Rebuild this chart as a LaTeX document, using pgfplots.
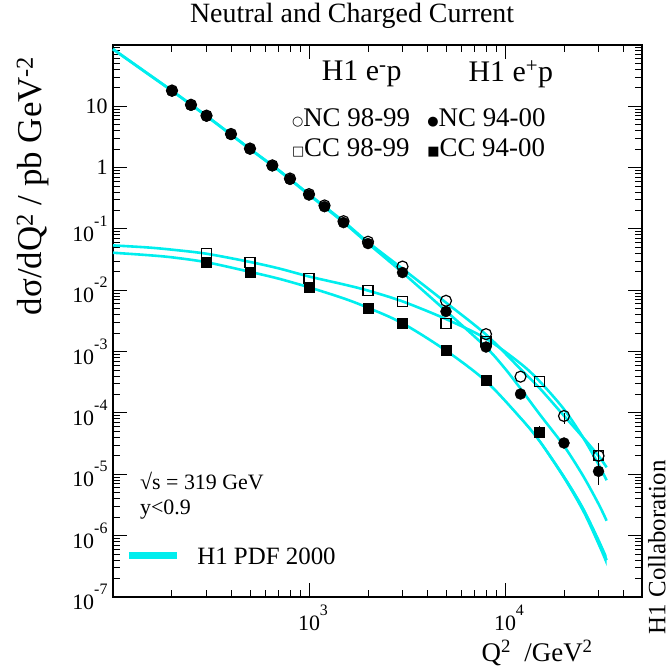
\documentclass[border=0pt]{standalone}
\usepackage{fontspec}
\setmainfont{Liberation Serif}
\newfontfamily\dejavu{DejaVu Sans}
\usepackage{pgfplots}
\pgfplotsset{compat=1.18}
\usepgfplotslibrary{fillbetween}
\definecolor{hcyan}{RGB}{0,238,238}
\newcommand{\xtl}[1]{10\rlap{\raisebox{15bp}{\fontsize{16}{16}\selectfont #1}}}
\newcommand{\ytl}[1]{10\raisebox{15bp}{\fontsize{16}{16}\selectfont #1}}
\newcommand{\fs}[1]{\fontsize{#1}{#1}\selectfont}
\newcommand{\sym}[1]{{\dejavu\fontsize{13}{13}\selectfont\raisebox{1.5bp}{#1}}}
\begin{document}
\begin{tikzpicture}
\begin{axis}[
  xmode=log, ymode=log,
  xmin=100, xmax=50000, ymin=1e-7, ymax=100,
  scale only axis, width=529bp, height=552bp,
  clip=false,
  axis line style={line width=1.2bp},
  tick style={line width=1bp, black},
  tick align=inside, tick pos=both,
  major tick length=14bp, minor tick length=7bp,
  xtick={1000,10000},
  xticklabels={\xtl{3},\xtl{4}},
  minor xtick={200,300,400,500,600,700,800,900,2000,3000,4000,5000,6000,7000,8000,9000,20000,30000,40000},
  ytick={1e-7,1e-6,1e-5,1e-4,1e-3,1e-2,1e-1,1,10},
  yticklabels={\ytl{-7},\ytl{-6},\ytl{-5},\ytl{-4},\ytl{-3},\ytl{-2},\ytl{-1},1,10},
  minor ytick={2e-7,3e-7,4e-7,5e-7,6e-7,7e-7,8e-7,9e-7,
    2e-6,3e-6,4e-6,5e-6,6e-6,7e-6,8e-6,9e-6,
    2e-5,3e-5,4e-5,5e-5,6e-5,7e-5,8e-5,9e-5,
    2e-4,3e-4,4e-4,5e-4,6e-4,7e-4,8e-4,9e-4,
    2e-3,3e-3,4e-3,5e-3,6e-3,7e-3,8e-3,9e-3,
    2e-2,3e-2,4e-2,5e-2,6e-2,7e-2,8e-2,9e-2,
    0.2,0.3,0.4,0.5,0.6,0.7,0.8,0.9,
    2,3,4,5,6,7,8,9,20,30,40,50,60,70,80,90},
  ticklabel style={font=\fs{22}},
  xticklabel style={anchor=north, yshift=-4bp},
  yticklabel style={anchor=east, xshift=-2bp},
]
% ---- H1 PDF 2000 curves
\addplot[hcyan, line width=2.6bp, smooth] coordinates {
(100,86)(150,34.5)(200,18.0)(300,7.0)(500,2.03)(700,0.915)(1000,0.368)(1500,0.133)(2000,0.061)(3000,0.0225)(5000,0.0063)(8000,0.0019)(12000,5.2e-4)(15000,2.55e-4)(20000,9.0e-5)(25000,4.0e-5)(30000,2.0e-5)(33000,1.3e-5)};
\addplot[hcyan, line width=2.6bp, smooth] coordinates {
(100,85)(150,34)(200,17.8)(300,6.9)(500,2.0)(700,0.90)(1000,0.36)(1500,0.128)(2000,0.058)(3000,0.0195)(5000,0.0046)(8000,0.00118)(10000,5.3e-4)(12000,2.5e-4)(15000,9.6e-5)(20000,2.9e-5)(25000,9.5e-6)(30000,3.3e-6)(33000,1.75e-6)};
\addplot[hcyan, line width=2.6bp, smooth] coordinates {
(100,0.054)(150,0.050)(200,0.046)(300,0.0395)(500,0.029)(700,0.0228)(1000,0.0168)(1500,0.0125)(2000,0.0099)(3000,0.0066)(5000,0.0034)(8000,0.00163)(12000,6.4e-4)(15000,3.3e-4)(20000,1.15e-4)(25000,4.0e-5)(30000,1.45e-5)(33000,8e-6)};
\addplot[hcyan, line width=2.6bp, smooth] coordinates {
(100,0.041)(150,0.0375)(200,0.0345)(300,0.0287)(500,0.0200)(700,0.0155)(1000,0.0112)(1500,0.0074)(2000,0.0052)(3000,0.0029)(5000,0.00104)(8000,3.3e-4)(12000,8.3e-5)(15000,3.5e-5)(20000,9.0e-6)(25000,2.7e-6)(30000,8.0e-7)(33000,4.0e-7)};
\addplot[name path=ccup, draw=none, smooth] coordinates {
(5000,1.06e-3)(8000,3.4e-4)(12000,8.7e-5)(15000,3.75e-5)(20000,9.9e-6)(25000,3.08e-6)(30000,9.44e-7)(33000,4.8e-7)};
\addplot[name path=cclo, draw=none, smooth] coordinates {
(5000,1.02e-3)(8000,3.2e-4)(12000,7.9e-5)(15000,3.25e-5)(20000,8.1e-6)(25000,2.32e-6)(30000,6.56e-7)(33000,3.2e-7)};
\addplot[hcyan] fill between[of=ccup and cclo];
% ---- data
\addplot[only marks, mark=o, mark size=5.5bp, mark options={line width=1.2bp}, black,
  error bars/.cd, y dir=both, y explicit, error mark=none, error bar style={line width=1bp}] coordinates {
(200,18.1)(250,10.6)(300,7.05)(400,3.54)(500,2.05)(650,1.09)(800,0.665)(1000,0.37)(1200,0.242)(1500,0.134)(2000,0.062)(3000,0.0244)(5000,0.00675)(8000,0.00193)(12000,3.91e-4)
(20000,8.93e-5) += (0,1.0e-5) -= (0,2.4e-5)
(30000,2.0e-5) += (0,1.2e-5) -= (0,0.8e-5)};
\addplot[only marks, mark=square, mark size=5bp, mark options={line width=1.2bp}, black,
  error bars/.cd, y dir=both, y explicit, error mark=none, error bar style={line width=1bp}] coordinates {
(300,0.0393)(500,0.0286)(1000,0.0157)(2000,0.00993)(3000,0.00658)(5000,0.00285)(8000,0.00147)(15000,3.28e-4)
(30000,2.0e-5) += (0,1.1e-5) -= (0,0.7e-5)};
\addplot[only marks, mark=*, mark size=5.5bp, black,
  error bars/.cd, y dir=both, y explicit, error mark=none, error bar style={line width=1bp}] coordinates {
(200,17.7)(250,10.4)(300,6.92)(400,3.47)(500,2.01)(650,1.07)(800,0.643)(1000,0.358)(1200,0.231)(1500,0.127)(2000,0.0578)(3000,0.0195)(5000,0.00452)(8000,0.00119)(12000,2.04e-4)
(20000,3.24e-5) += (0,0.4e-5) -= (0,0.5e-5)
(30000,1.12e-5) += (0,0.5e-5) -= (0,0.45e-5)};
\addplot[only marks, mark=square*, mark size=5bp, black,
  error bars/.cd, y dir=both, y explicit, error mark=none, error bar style={line width=1bp}] coordinates {
(300,0.0286)(500,0.0197)(1000,0.0111)(2000,0.00512)(3000,0.00292)(5000,0.00105)(8000,3.4e-4)
(15000,4.9e-5) += (0,1.3e-5) -= (0,1.0e-5)};
% ---- texts
\node[font=\fs{28}] at (axis description cs:0.452,1.0525) {Neutral and Charged Current};
\node[font=\fs{30}] at (axis description cs:0.470,0.9475) {H1 e\textsuperscript{-}p};
\node[font=\fs{30}] at (axis description cs:0.752,0.9475) {H1 e\textsuperscript{+}p};
\node[font=\fs{27}, anchor=west, inner sep=0pt] at (axis description cs:0.338,0.8678) {\sym{○}NC 98-99};
\node[font=\fs{27}, anchor=west, inner sep=0pt] at (axis description cs:0.594,0.8678) {\sym{●}NC 94-00};
\node[font=\fs{27}, anchor=west, inner sep=0pt] at (axis description cs:0.338,0.8134) {\sym{□}CC 98-99};
\node[font=\fs{27}, anchor=west, inner sep=0pt] at (axis description cs:0.594,0.8134) {\sym{■}CC 94-00};
\node[font=\fs{22}, anchor=west, inner sep=0pt] at (axis description cs:0.051,0.210) {√s = 319 GeV};
\node[font=\fs{22}, anchor=west, inner sep=0pt] at (axis description cs:0.051,0.159) {y<0.9};
\draw[hcyan, line width=7bp] (axis description cs:0.030,0.0743) -- (axis description cs:0.121,0.0743);
\node[font=\fs{25}, anchor=west, inner sep=0pt] at (axis description cs:0.159,0.0743) {H1 PDF 2000};
\node[font=\fs{27}, anchor=base east, inner sep=0pt] at (axis description cs:0.907,-0.116) {Q\textsuperscript{2} ~/GeV\textsuperscript{2}};
\node[font=\fs{35}, rotate=90, inner sep=0pt] at (axis description cs:-0.151,0.745) {dσ/dQ\textsuperscript{2} / pb GeV\textsuperscript{-2}};
\node[font=\fs{25}, rotate=90, inner sep=0pt] at (axis description cs:1.028,0.09) {H1 Collaboration};
\end{axis}
\path[use as bounding box] (-113bp,-73bp) rectangle (558bp,596bp);
\end{tikzpicture}
\end{document}
